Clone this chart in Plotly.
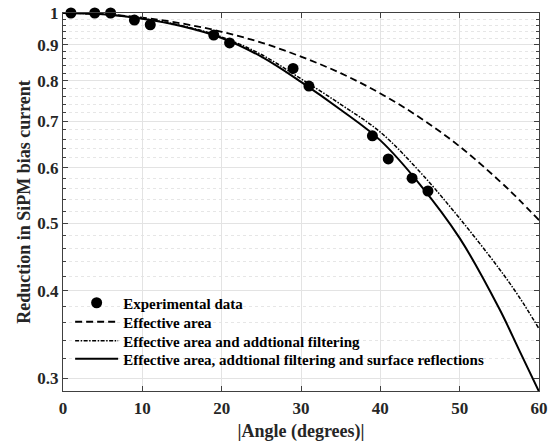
import numpy as np
import plotly.graph_objects as go

# Experimental data
exp_angle = [1, 4, 6, 9, 11, 19, 21, 29, 31, 39, 41, 44, 46]
exp_ratio = [1.0, 1.0, 1.0, 0.977, 0.962, 0.930, 0.906, 0.833, 0.786, 0.667, 0.618, 0.580, 0.556]

# Model curves
curve_angle = [0, 5, 10, 15, 20, 25, 30, 35, 40, 45, 50, 55, 57.5, 60]
eff_area = [1.0, 0.996, 0.985, 0.966, 0.940, 0.907, 0.866, 0.820, 0.767, 0.708, 0.644, 0.575, 0.540, 0.505]
eff_filter = [1.0, 0.996, 0.982, 0.959, 0.924, 0.872, 0.805, 0.740, 0.675, 0.592, 0.508, 0.430, 0.392, 0.353]
eff_filter_refl = [1.0, 0.996, 0.981, 0.957, 0.921, 0.866, 0.797, 0.727, 0.657, 0.568, 0.476, 0.377, 0.329, 0.287]

x_ticks = [0, 10, 20, 30, 40, 50, 60]
y_ticks = [0.3, 0.4, 0.5, 0.6, 0.7, 0.8, 0.9, 1.0]
y_tick_text = ["0.3", "0.4", "0.5", "0.6", "0.7", "0.8", "0.9", "1"]

FONT = "Liberation Serif"

fig = go.Figure()
fig.add_trace(go.Scatter(
    x=exp_angle, y=exp_ratio, mode="markers", name="Experimental data",
    marker=dict(color="black", size=11), cliponaxis=False, legend="legend"))
fig.add_trace(go.Scatter(
    x=curve_angle, y=eff_area, mode="lines", name="Effective area",
    line=dict(color="black", width=1.8, dash="7px,4px", shape="spline"), legend="legend2"))
fig.add_trace(go.Scatter(
    x=curve_angle, y=eff_filter, mode="lines", name="Effective area and addtional filtering",
    line=dict(color="black", width=1.5, dash="4px,1.5px,1.5px,1.5px", shape="spline"), legend="legend3"))
fig.add_trace(go.Scatter(
    x=curve_angle, y=eff_filter_refl, mode="lines",
    name="Effective area, addtional filtering and surface reflections",
    line=dict(color="black", width=2, shape="spline"), legend="legend4"))

minor_y = [round(v, 2) for v in np.arange(0.30, 1.0001, 0.02)
           if round(v, 2) not in y_ticks and abs(round(v, 2) - 1.0) > 1e-9]

def leg(yc):
    return dict(
        x=0.015, y=yc, xanchor="left", yanchor="middle",
        bgcolor="rgba(0,0,0,0)", borderwidth=0,
        font=dict(family=FONT, size=15, color="black", weight="bold"),
        itemwidth=43,
    )

fig.update_layout(
    width=556, height=444,
    margin=dict(l=63, r=17, t=13, b=53, autoexpand=False),
    paper_bgcolor="white", plot_bgcolor="white",
    font=dict(family=FONT, color="#262626"),
    showlegend=True,
    legend=leg(0.2328), legend2=leg(0.1825), legend3=leg(0.1323), legend4=leg(0.0847),
    xaxis=dict(
        range=[0, 60], tickvals=x_ticks, automargin=False,
        ticks="inside", ticklen=5, tickcolor="#404040", ticklabelstandoff=2,
        showline=True, linecolor="#404040", linewidth=1, mirror="ticks",
        showgrid=True, gridcolor="#e3e3e3", gridwidth=1, zeroline=False,
        tickfont=dict(family=FONT, size=17, color="#262626", weight="bold"),
        title=dict(text="|Angle (degrees)|", standoff=6,
                   font=dict(family=FONT, size=18, color="#262626", weight="bold")),
    ),
    yaxis=dict(
        type="log", range=[np.log10(0.2875), 0.0], automargin=False,
        tickvals=y_ticks, ticktext=y_tick_text,
        ticks="inside", ticklen=5, tickcolor="#404040",
        showline=True, linecolor="#404040", linewidth=1, mirror="ticks",
        showgrid=True, gridcolor="#e3e3e3", gridwidth=1, zeroline=False,
        tickfont=dict(family=FONT, size=17, color="#262626", weight="bold"),
        title=dict(text="Reduction in SiPM bias current", standoff=2,
                   font=dict(family=FONT, size=18, color="#262626", weight="bold")),
        minor=dict(tickmode="array", tickvals=minor_y, ticks="inside", ticklen=3,
                   tickcolor="#404040", showgrid=True, gridcolor="#e6e6e6",
                   griddash="dot", gridwidth=1),
    ),
)

fig.write_html("out.html")
